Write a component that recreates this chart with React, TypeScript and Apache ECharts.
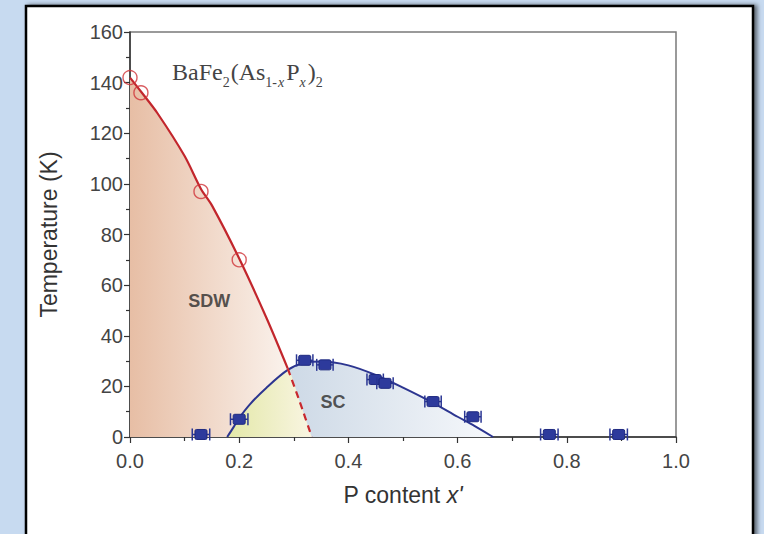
import React, { useEffect, useRef } from "react";
import * as echarts from "echarts";

// Red SDW boundary (solid part)
const redSolidX = [0, 0.02, 0.05, 0.1, 0.13, 0.15, 0.2, 0.25, 0.289];
const redSolidT = [142, 136.5, 128, 111, 98, 91.5, 70.5, 47, 27];
// Red SDW boundary (dashed continuation)
const redDashX = [0.289, 0.31, 0.333];
const redDashT = [27, 14.5, 0];
// Blue SC dome
const blueX = [0.178, 0.19, 0.2, 0.22, 0.25, 0.289, 0.32, 0.35, 0.4, 0.45, 0.5, 0.555, 0.6, 0.63, 0.665];
const blueT = [0, 4, 7.5, 13, 19.5, 26.5, 29.3, 29.8, 28.3, 24.5, 19.5, 13.5, 8, 4.5, 0];
// SDW data points (open circles)
const sdwX = [0, 0.02, 0.13, 0.2];
const sdwT = [142, 136, 97, 70];
// SC data points (squares with horizontal error bars)
const scX = [0.13, 0.2, 0.32, 0.357, 0.449, 0.467, 0.555, 0.628, 0.768, 0.895];
const scT = [1, 7, 30.3, 28.5, 22.7, 21.2, 14, 8, 1, 1];
const scXErr = [0.016, 0.016, 0.015, 0.015, 0.015, 0.015, 0.015, 0.015, 0.016, 0.016];
// Region labels
const regionLabels = ["SDW", "SC"];
const regionX = [0.145, 0.372];
const regionT = [53.7, 13.8];
// Ticks
const xTicks = [0, 0.2, 0.4, 0.6, 0.8, 1.0];
const yTicks = [0, 20, 40, 60, 80, 100, 120, 140, 160];

const zip = (a: number[], b: number[]) => a.map((v, i) => [v, b[i]]);

export default function App() {
  const ref = useRef<HTMLDivElement>(null);
  useEffect(() => {
    if (!ref.current) return;
    const chart = echarts.init(ref.current, null, { renderer: "svg" });
    const cross = redDashX[0];
    const sdwArea = [...zip(redSolidX, redSolidT), ...zip(redDashX, redDashT).slice(1)];
    const blueRight = zip(blueX, blueT).filter((p) => p[0] >= cross);
    const yellow = [...zip(blueX, blueT).filter((p) => p[0] <= cross), ...zip(redDashX, redDashT).slice(1)];
    const font = "'Liberation Sans', Arial, sans-serif";
    const serif = "'Liberation Serif', 'Times New Roman', serif";
    const hGrad = (c0: string, c1: string) =>
      new echarts.graphic.LinearGradient(0, 0, 1, 0, [
        { offset: 0, color: c0 },
        { offset: 1, color: c1 },
      ]);
    const option: any = {
      animation: false,
      backgroundColor: "#c7daf0",
      graphic: [
        {
          type: "rect",
          z: -100,
          silent: true,
          shape: { x: 26, y: 6, width: 727, height: 560 },
          style: {
            fill: "#ffffff",
            stroke: "#000000",
            lineWidth: 2.5,
            shadowBlur: 4,
            shadowOffsetX: 3,
            shadowOffsetY: 0,
            shadowColor: "rgba(0,0,0,0.55)",
          },
        },
        {
          type: "text",
          left: 172,
          top: 60,
          z: 50,
          style: {
            text: "{n|BaFe}{s|2}{n|(As}{s|1-}{si|x}{n|P}{si|x}{n|)}{s|2}",
            rich: {
              n: { fontFamily: serif, fontSize: 24, lineHeight: 34, verticalAlign: "middle", fill: "#444" },
              s: { fontFamily: serif, fontSize: 14, lineHeight: 15, verticalAlign: "bottom", fill: "#444", padding: [0, 1, 0, 0] },
              si: { fontFamily: serif, fontStyle: "italic", fontSize: 14, lineHeight: 15, verticalAlign: "bottom", fill: "#444", padding: [0, 2, 0, 0] },
            },
          },
        },
      ],
      grid: {
        left: 130,
        right: 88,
        top: 32,
        bottom: 97,
        show: true,
        borderColor: "#7a7a7a",
        borderWidth: 1.5,
        backgroundColor: "transparent",
      },
      xAxis: {
        type: "value",
        min: xTicks[0],
        max: xTicks[xTicks.length - 1],
        interval: 0.2,
        name: "{a|P content }{b|x'}",
        nameLocation: "middle",
        nameGap: 46,
        nameTextStyle: {
          rich: {
            a: { fontFamily: font, fontSize: 23, color: "#333" },
            b: { fontFamily: font, fontSize: 23, fontStyle: "italic", color: "#333" },
          },
        },
        axisLine: { onZero: false, lineStyle: { color: "#333", width: 1.5 } },
        axisTick: { length: 6, lineStyle: { color: "#333", width: 1.2 } },
        minorTick: { show: true, splitNumber: 2, length: 4, lineStyle: { color: "#333", width: 1.2 } },
        splitLine: { show: false },
        axisLabel: {
          fontFamily: font,
          fontSize: 20,
          color: "#444",
          margin: 14,
          formatter: (v: number) => v.toFixed(1),
        },
      },
      yAxis: {
        type: "value",
        min: yTicks[0],
        max: yTicks[yTicks.length - 1],
        interval: 20,
        name: "Temperature (K)",
        nameLocation: "middle",
        nameGap: 70,
        nameTextStyle: { fontFamily: font, fontSize: 23, color: "#333" },
        axisLine: { show: true, lineStyle: { color: "#333", width: 1.5 } },
        axisTick: { length: 6, lineStyle: { color: "#333", width: 1.2 } },
        minorTick: { show: true, splitNumber: 2, length: 4, lineStyle: { color: "#333", width: 1.2 } },
        splitLine: { show: false },
        axisLabel: { fontFamily: font, fontSize: 20, color: "#444", margin: 7 },
      },
      series: [
        {
          type: "line",
          data: sdwArea,
          smooth: 0.3,
          symbol: "none",
          lineStyle: { width: 0, opacity: 0 },
          areaStyle: { color: hGrad("#e7bea5", "#fdfaf7"), opacity: 1 },
          z: 1,
          silent: true,
        },
        {
          type: "line",
          data: blueRight,
          smooth: 0.3,
          symbol: "none",
          lineStyle: { width: 0, opacity: 0 },
          areaStyle: { color: hGrad("#cdd9e6", "#f6f8fb"), opacity: 1 },
          z: 1,
          silent: true,
        },
        {
          type: "line",
          data: yellow,
          smooth: 0.2,
          symbol: "none",
          lineStyle: { width: 0, opacity: 0 },
          areaStyle: { color: hGrad("#e3e8a8", "#f9f5e2"), opacity: 1 },
          z: 1,
          silent: true,
        },
        {
          type: "line",
          data: zip(blueX, blueT),
          smooth: 0.3,
          symbol: "none",
          lineStyle: { color: "#2c3590", width: 2 },
          z: 3,
        },
        {
          type: "line",
          data: zip(redSolidX, redSolidT),
          smooth: 0.3,
          symbol: "none",
          lineStyle: { color: "#c2262c", width: 2.2 },
          z: 4,
        },
        {
          type: "line",
          data: zip(redDashX, redDashT),
          smooth: 0.2,
          symbol: "none",
          lineStyle: { color: "#c8282e", width: 2.2, type: [7, 5] },
          z: 4,
        },
        {
          type: "scatter",
          data: zip(sdwX, sdwT),
          symbol: "circle",
          symbolSize: 14,
          clip: false,
          itemStyle: { color: "rgba(255,255,255,0)", borderColor: "#d0353a", borderWidth: 1.4 },
          z: 6,
        },
        {
          type: "custom",
          clip: false,
          z: 6,
          data: scX.map((x, i) => [x, scT[i], scXErr[i]]),
          renderItem: (params: any, api: any) => {
            const x = api.value(0);
            const y = api.value(1);
            const e = api.value(2);
            const c = api.coord([x, y]);
            const l = api.coord([x - e, y]);
            const r = api.coord([x + e, y]);
            const col = "#2a3694";
            return {
              type: "group",
              children: [
                { type: "line", shape: { x1: l[0], y1: c[1], x2: r[0], y2: c[1] }, style: { stroke: col, lineWidth: 1.5 } },
                { type: "line", shape: { x1: l[0], y1: c[1] - 6, x2: l[0], y2: c[1] + 6 }, style: { stroke: col, lineWidth: 1.5 } },
                { type: "line", shape: { x1: r[0], y1: c[1] - 6, x2: r[0], y2: c[1] + 6 }, style: { stroke: col, lineWidth: 1.5 } },
                { type: "rect", shape: { x: c[0] - 6, y: c[1] - 5, width: 12, height: 10, r: 1.5 }, style: { fill: "#2d3a9c", stroke: "#1f2a80", lineWidth: 1 } },
              ],
            };
          },
        },
        {
          type: "scatter",
          data: regionX.map((x, i) => ({ value: [x, regionT[i]], name: regionLabels[i] })),
          symbolSize: 0,
          silent: true,
          z: 7,
          label: {
            show: true,
            position: "inside",
            formatter: (p: any) => p.name,
            fontFamily: font,
            fontWeight: "bold",
            fontSize: 18,
            color: "#2b2b2b",
          },
        },
      ],
    };
    chart.setOption(option);
    return () => chart.dispose();
  }, []);
  return <div ref={ref} style={{ position: "fixed", left: 0, top: 0, width: 764, height: 534 }} />;
}
